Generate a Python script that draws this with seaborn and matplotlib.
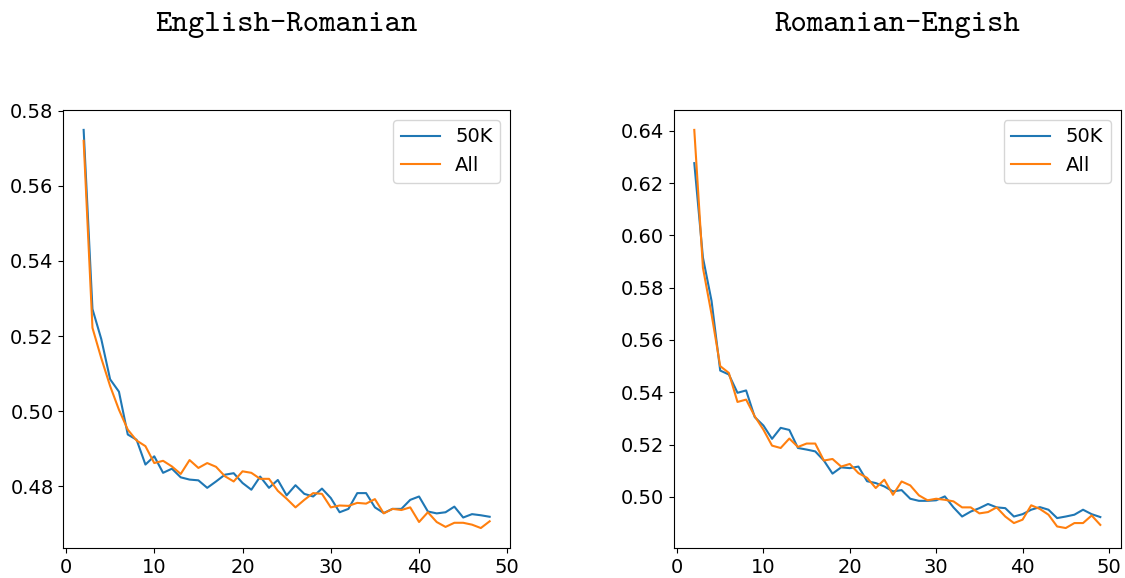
import numpy as np
import pandas as pd
import matplotlib
matplotlib.use("Agg")
import matplotlib.pyplot as plt
import seaborn as sns

#Values
en_ro_x = list(range(2, 49))
en_ro_50k = [0.5749, 0.5272, 0.5192, 0.5085, 0.5052, 0.4938, 0.4924, 0.4858, 0.4880, 0.4836,
             0.4847, 0.4824, 0.4818, 0.4816, 0.4796, 0.4813, 0.4831, 0.4835, 0.4809, 0.4791,
             0.4826, 0.4796, 0.4817, 0.4776, 0.4803, 0.4780, 0.4773, 0.4794, 0.4769, 0.4731,
             0.4740, 0.4782, 0.4782, 0.4744, 0.4729, 0.4740, 0.4740, 0.4764, 0.4773, 0.4733,
             0.4728, 0.4731, 0.4746, 0.4717, 0.4726, 0.4723, 0.4719]
en_ro_all = [0.5720, 0.5222, 0.5141, 0.5067, 0.5004, 0.4951, 0.4922, 0.4907, 0.4862, 0.4868,
             0.4853, 0.4833, 0.4870, 0.4849, 0.4862, 0.4852, 0.4827, 0.4813, 0.4840, 0.4836,
             0.4820, 0.4820, 0.4788, 0.4767, 0.4744, 0.4764, 0.4782, 0.4780, 0.4744, 0.4749,
             0.4748, 0.4756, 0.4754, 0.4766, 0.4728, 0.4740, 0.4737, 0.4744, 0.4705, 0.4731,
             0.4705, 0.4692, 0.4703, 0.4703, 0.4698, 0.4689, 0.4707]

ro_en_x = list(range(2, 50))
ro_en_50k = [0.6276, 0.5915, 0.5749, 0.5483, 0.5468, 0.5398, 0.5407, 0.5305, 0.5273, 0.5222,
             0.5264, 0.5256, 0.5187, 0.5181, 0.5174, 0.5139, 0.5089, 0.5113, 0.5110, 0.5116,
             0.5060, 0.5053, 0.5040, 0.5021, 0.5026, 0.4993, 0.4985, 0.4985, 0.4987, 0.5002,
             0.4960, 0.4925, 0.4944, 0.4957, 0.4973, 0.4960, 0.4957, 0.4925, 0.4934, 0.4951,
             0.4961, 0.4951, 0.4919, 0.4925, 0.4932, 0.4951, 0.4934, 0.4923]
ro_en_all = [0.6403, 0.5876, 0.5698, 0.5500, 0.5474, 0.5363, 0.5372, 0.5308, 0.5257, 0.5196,
             0.5187, 0.5223, 0.5191, 0.5204, 0.5204, 0.5139, 0.5145, 0.5116, 0.5126, 0.5091,
             0.5073, 0.5034, 0.5066, 0.5008, 0.5059, 0.5044, 0.5006, 0.4987, 0.4993, 0.4989,
             0.4983, 0.4960, 0.4960, 0.4937, 0.4942, 0.4960, 0.4925, 0.4900, 0.4913, 0.4968,
             0.4954, 0.4932, 0.4887, 0.4881, 0.4900, 0.4900, 0.4929, 0.4893]

titles = ["English-Romanian", "Romanian-Engish"]
series_names = ["50K", "All"]
colors = ["#1f77b4", "#ff7f0e"]

#Make long-form tables for seaborn
def make_df(x, a, b):
    return pd.DataFrame({
        "epoch": list(x) + list(x),
        "value": list(a) + list(b),
        "model": [series_names[0]] * len(a) + [series_names[1]] * len(b),
    })

panels = [make_df(en_ro_x, en_ro_50k, en_ro_all),
          make_df(ro_en_x, ro_en_50k, ro_en_all)]

fig = plt.figure(figsize=(11.25, 5.78), dpi=100)
ax_pos = [[0.0563, 0.052, 0.3970, 0.7577],
          [0.5991, 0.052, 0.3970, 0.7577]]

for i, df in enumerate(panels):
    ax = fig.add_axes(ax_pos[i])
    sns.lineplot(data=df, x="epoch", y="value", hue="model", palette=colors,
                 linewidth=1.5, ax=ax)
    ax.set_xlabel("")
    ax.set_ylabel("")
    ax.set_xticks([0, 10, 20, 30, 40, 50])
    ax.tick_params(labelsize=14)
    ax.yaxis.set_major_formatter(matplotlib.ticker.FormatStrFormatter("%.2f"))
    handles, labels = ax.get_legend_handles_labels()
    ax.legend(handles, labels, loc="upper right", fontsize=14)
    ax.set_title(titles[i], fontfamily="cmtt10", fontsize=22.5, pad=57)

fig.savefig("out.png", dpi=100)
